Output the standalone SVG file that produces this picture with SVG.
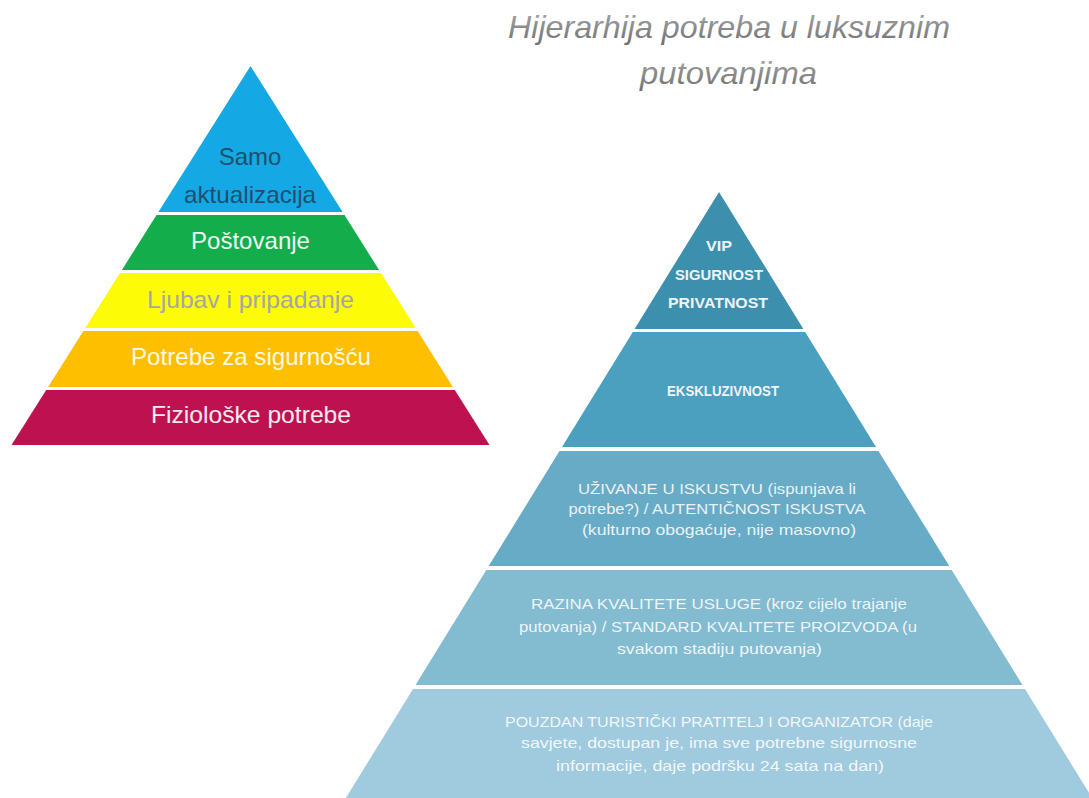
<svg xmlns="http://www.w3.org/2000/svg" width="1089" height="798" viewBox="0 0 1089 798">
<defs>
<linearGradient id="titleGrad" x1="0" y1="0" x2="0" y2="1">
<stop offset="0" stop-color="#a8a8a8"/>
<stop offset="1" stop-color="#707070"/>
</linearGradient>
<style>
.lbl{font-family:"Liberation Sans",Arial,sans-serif;font-size:24px;text-anchor:middle}
.rl{font-family:"Liberation Sans",Arial,sans-serif;font-size:15px;text-anchor:middle;fill:#ffffff;fill-opacity:0.88}
.rt{font-family:"Liberation Sans",Arial,sans-serif;font-size:15px;font-weight:bold;text-anchor:middle;fill:#eef5f8}
.title{font-family:"Liberation Sans",Arial,sans-serif;font-style:italic;font-size:32px;text-anchor:middle;fill:url(#titleGrad)}
</style>
</defs>
<rect width="1089" height="798" fill="#ffffff"/>

<g id="title">
<text class="title" x="729" y="38" textLength="442" lengthAdjust="spacingAndGlyphs">Hijerarhija potreba u luksuznim</text>
<text class="title" x="728.5" y="84" textLength="177" lengthAdjust="spacingAndGlyphs">putovanjima</text>
</g>

<g id="maslow">
<g id="m-samoaktualizacija">
<polygon points="250.5,66 342.6,212 158.4,212" fill="#14a9e4"/>
<text class="lbl" x="250" y="165" fill="#1f4e6e">Samo</text>
<text class="lbl" x="250" y="203" fill="#1f4e6e" textLength="132" lengthAdjust="spacingAndGlyphs">aktualizacija</text>
</g>
<g id="m-postovanje">
<polygon points="156.5,215 344.5,215 379.1,270 121.9,270" fill="#14ad4c"/>
<text class="lbl" x="250.5" y="249" fill="#eef8f1" textLength="119" lengthAdjust="spacingAndGlyphs">Poštovanje</text>
</g>
<g id="m-ljubav">
<polygon points="120,273 381,273 415.7,328 85.3,328" fill="#fdfc06"/>
<text class="lbl" x="250.5" y="308" fill="#a6a6a6" textLength="207" lengthAdjust="spacingAndGlyphs">Ljubav i pripadanje</text>
</g>
<g id="m-sigurnost">
<polygon points="83.4,331 417.6,331 452.9,387 48.1,387" fill="#fdbf00"/>
<text class="lbl" x="251" y="365" fill="#fff8e6" textLength="240" lengthAdjust="spacingAndGlyphs">Potrebe za sigurnošću</text>
</g>
<g id="m-fizioloske">
<polygon points="46.2,390 454.8,390 489.5,445 11.5,445" fill="#be1250"/>
<text class="lbl" x="251" y="423" fill="#f8eaf0" textLength="200" lengthAdjust="spacingAndGlyphs">Fiziološke potrebe</text>
</g>
</g>

<g id="luxury">
<g id="l-vip">
<polygon points="719,192 803.4,329 634.6,329" fill="#3d8fae"/>
<text class="rt" x="719" y="251" textLength="26" lengthAdjust="spacingAndGlyphs">VIP</text>
<text class="rt" x="719" y="279.5" textLength="88" lengthAdjust="spacingAndGlyphs">SIGURNOST</text>
<text class="rt" x="718" y="308" textLength="100" lengthAdjust="spacingAndGlyphs">PRIVATNOST</text>
</g>
<g id="l-ekskluzivnost">
<polygon points="632.8,332 805.2,332 876,447 562,447" fill="#4b9fbf"/>
<text class="rt" x="723" y="396" textLength="112" lengthAdjust="spacingAndGlyphs">EKSKLUZIVNOST</text>
</g>
<g id="l-uzivanje">
<polygon points="559.5,451 878.5,451 949.3,566 488.7,566" fill="#68abc6"/>
<text class="rl" x="717" y="494" textLength="278" lengthAdjust="spacingAndGlyphs">UŽIVANJE U ISKUSTVU (ispunjava li</text>
<text class="rl" x="717" y="514" textLength="297" lengthAdjust="spacingAndGlyphs">potrebe?) / AUTENTIČNOST ISKUSTVA</text>
<text class="rl" x="719" y="535" textLength="274" lengthAdjust="spacingAndGlyphs">(kulturno obogaćuje, nije masovno)</text>
</g>
<g id="l-kvaliteta">
<polygon points="486.3,570 951.7,570 1022.5,685 415.5,685" fill="#83bbd1"/>
<text class="rl" x="719" y="609" textLength="376" lengthAdjust="spacingAndGlyphs">RAZINA KVALITETE USLUGE (kroz cijelo trajanje</text>
<text class="rl" x="718" y="632" textLength="398" lengthAdjust="spacingAndGlyphs">putovanja) / STANDARD KVALITETE PROIZVODA (u</text>
<text class="rl" x="719.5" y="654" textLength="205" lengthAdjust="spacingAndGlyphs">svakom stadiju putovanja)</text>
</g>
<g id="l-pratitelj">
<polygon points="413,689 1025,689 1093.4,800 344.6,800" fill="#a0cade"/>
<text class="rl" x="719" y="727" textLength="428" lengthAdjust="spacingAndGlyphs">POUZDAN TURISTIČKI PRATITELJ I ORGANIZATOR (daje</text>
<text class="rl" x="719" y="748" textLength="396" lengthAdjust="spacingAndGlyphs">savjete, dostupan je, ima sve potrebne sigurnosne</text>
<text class="rl" x="720" y="771" textLength="328" lengthAdjust="spacingAndGlyphs">informacije, daje podršku 24 sata na dan)</text>
</g>
</g>
</svg>
